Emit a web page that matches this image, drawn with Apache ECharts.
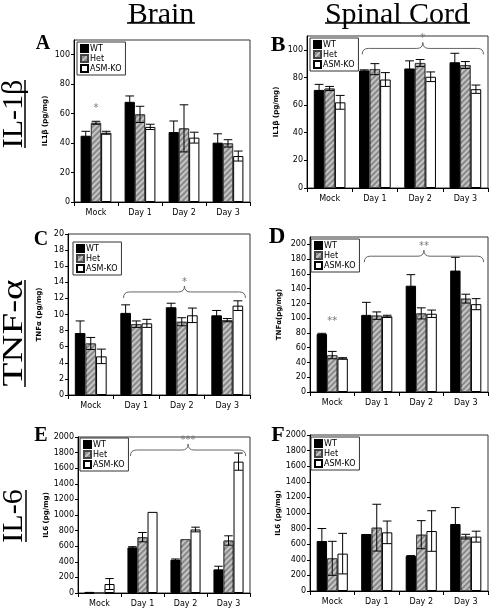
<!DOCTYPE html>
<html><head><meta charset="utf-8">
<script src="https://cdn.jsdelivr.net/npm/echarts@6/dist/echarts.min.js"></script>
<style>html,body{margin:0;padding:0;background:#fff}#c{width:496px;height:612px}</style>
</head><body><div id="c"></div>
<script>
const categories = ['Mock', 'Day 1', 'Day 2', 'Day 3'];
const groups = ['WT', 'Het', 'ASM-KO'];

// A: IL1β brain
const aWT = [45, 68, 47.5, 40.3], aWTErr = [3, 4, 7.5, 6];
const aHet = [53.8, 59.5, 50, 39.8], aHetErr = [1, 5.5, 16, 2.5];
const aKO = [47, 51, 43.7, 31.2], aKOErr = [1, 1.8, 3.7, 3.4];
// B: IL1β spinal cord
const bWT = [71, 85, 86.5, 91], bWTErr = [4, 0.5, 5.5, 6.5];
const bHet = [72, 86, 90.5, 89], bHetErr = [1.5, 4, 2.5, 2.5];
const bKO = [62, 78.5, 80.5, 71.5], bKOErr = [5, 5, 3.5, 3];
// C: TNFα brain
const cWT = [7.7, 10.2, 10.9, 9.9], cWTErr = [1.5, 1, 0.5, 0.6];
const cHet = [6.4, 8.8, 9.1, 9.3], cHetErr = [0.75, 0.4, 0.5, 0.2];
const cKO = [4.8, 8.9, 9.9, 11.1], cKOErr = [0.9, 0.5, 0.9, 0.6];
// D: TNFα spinal cord
const dWT = [78.5, 104.5, 144, 164.5], dWTErr = [1, 17, 15, 18];
const dHet = [50, 103.5, 106.5, 126.5], dHetErr = [5, 5, 7.5, 6];
const dKO = [45.5, 102.5, 106, 119], dKOErr = [1, 1.5, 5, 7.5];
// E: IL6 brain
const eWT = [5, 584, 426, 303], eWTErr = [3, 10, 10, 40];
const eHet = [0, 716, 691, 673], eHetErr = [0, 60, 0, 60];
const eKO = [115, 1040, 814, 1684], eKOErr = [70, 0, 30, 110];
// F: IL6 spinal cord
const fWT = [641, 731, 449, 859], fWTErr = [160, 0, 5, 210];
const fHet = [419, 812, 722, 697], fHetErr = [218, 300, 180, 30];
const fKO = [479, 752, 769, 697], fKOErr = [260, 145, 260, 70];

// significance brackets: [fromCategory, toCategory, value], and labels
const bBrackets = [[1, 3, 101]], bBracketLabels = ['*'];
const cBrackets = [[1, 3, 12.8]], cBracketLabels = ['*'];
const dBrackets = [[1, 3, 184]], dBracketLabels = ['**'];
const eBrackets = [[1, 3, 1833]], eBracketLabels = ['***'];
// single significance marks: [category, value, barIndex], labels
const aMarks = [[0, 63.5, 1]], aMarkLabels = ['*'];
const dMarks = [[0, 96, 1]], dMarkLabels = ['**'];

const yMaxes = [110, 110, 20, 210, 2000, 2000];
const yIntervals = [20, 20, 2, 20, 200, 200];
const yNames = ['IL1β (pg/mg)', 'IL1β (pg/mg)', 'TNFα (pg/mg)', 'TNFα(pg/mg)', 'IL6 (pg/mg)', 'IL6 (pg/mg)'];

const panels = [
  {vals: [aWT, aHet, aKO], errs: [aWTErr, aHetErr, aKOErr], brackets: [], bl: [], marks: aMarks, ml: aMarkLabels},
  {vals: [bWT, bHet, bKO], errs: [bWTErr, bHetErr, bKOErr], brackets: bBrackets, bl: bBracketLabels, marks: [], ml: []},
  {vals: [cWT, cHet, cKO], errs: [cWTErr, cHetErr, cKOErr], brackets: cBrackets, bl: cBracketLabels, marks: [], ml: []},
  {vals: [dWT, dHet, dKO], errs: [dWTErr, dHetErr, dKOErr], brackets: dBrackets, bl: dBracketLabels, marks: dMarks, ml: dMarkLabels},
  {vals: [eWT, eHet, eKO], errs: [eWTErr, eHetErr, eKOErr], brackets: eBrackets, bl: eBracketLabels, marks: [], ml: []},
  {vals: [fWT, fHet, fKO], errs: [fWTErr, fHetErr, fKOErr], brackets: [], bl: [], marks: [], ml: []}
];

// layout (pixels)
const layout = [
  {left: 74, top: 40, width: 176, height: 162, legend: [77, 42]},
  {left: 307, top: 36, width: 181, height: 152, legend: [310, 38]},
  {left: 68, top: 234, width: 182, height: 161, legend: [73, 242]},
  {left: 310, top: 237, width: 178, height: 155, legend: [311, 239]},
  {left: 78, top: 437, width: 172, height: 156, legend: [80, 438]},
  {left: 310, top: 435, width: 178, height: 156, legend: [311, 437]}
];

const FONT = 'DejaVu Sans';
const SERIF = '"Liberation Serif", "DejaVu Serif", serif';
const CAT_GAP = 0.3;

const barStyles = [
  {color: '#000', borderColor: '#000', borderWidth: 1},
  {color: '#8a8a8a', borderColor: '#444', borderWidth: 1,
   decal: {color: '#c4c4c4', dashArrayX: [1, 0], dashArrayY: [2, 2], rotation: -Math.PI / 4, symbol: 'rect'}},
  {color: '#fff', borderColor: '#000', borderWidth: 1}
];

function renderErr(params, api) {
  const cat = api.value(0), v = api.value(1), e = api.value(2), k = api.value(3);
  if (!(e > 0)) return null;
  const band = api.size([1, 0])[0];
  const bw = band * (1 - CAT_GAP) / 3;
  const x = api.coord([cat, v])[0] + (k - 1) * bw;
  const yt = api.coord([cat, v + e])[1];
  const yb = api.coord([cat, Math.max(v - e, 0)])[1];
  const hw = bw * 0.42;
  const st = {stroke: '#000', lineWidth: 1};
  return {type: 'group', children: [
    {type: 'line', shape: {x1: x, y1: yt, x2: x, y2: yb}, style: st},
    {type: 'line', shape: {x1: x - hw, y1: yt, x2: x + hw, y2: yt}, style: st},
    {type: 'line', shape: {x1: x - hw, y1: yb, x2: x + hw, y2: yb}, style: st}
  ]};
}

function makeBracketRenderer(labels) {
  return function (params, api) {
    const a = api.value(0), b = api.value(1), v = api.value(2);
    const band = api.size([1, 0])[0];
    const x1 = api.coord([a, v])[0] - 0.28 * band;
    const x2 = api.coord([b, v])[0] + 0.4 * band;
    const y = api.coord([a, v])[1];
    const xm = (x1 + x2) / 2;
    const d = 6;
    const p = `M${x1},${y + d} Q${x1},${y} ${x1 + d},${y} L${xm - d},${y} Q${xm},${y} ${xm},${y - d} Q${xm},${y} ${xm + d},${y} L${x2 - d},${y} Q${x2},${y} ${x2},${y + d}`;
    return {type: 'group', children: [
      {type: 'path', shape: {pathData: p}, style: {stroke: '#666', lineWidth: 1, fill: null}},
      {type: 'text', x: xm, y: y - d - 4, style: {text: labels[params.dataIndex], fill: '#777', font: '10px ' + FONT, align: 'center', verticalAlign: 'middle'}}
    ]};
  };
}

function makeMarkRenderer(labels) {
  return function (params, api) {
    const cat = api.value(0), v = api.value(1), k = api.value(2);
    const band = api.size([1, 0])[0];
    const bw = band * (1 - CAT_GAP) / 3;
    const c = api.coord([cat, v]);
    return {type: 'text', x: c[0] + (k - 1) * bw, y: c[1], style: {text: labels[params.dataIndex], fill: '#777', font: '10px ' + FONT, align: 'center', verticalAlign: 'middle'}};
  };
}

const grid = [], xAxis = [], yAxis = [], series = [], legend = [];
panels.forEach((p, i) => {
  const L = layout[i];
  grid.push({left: L.left, top: L.top, width: L.width, height: L.height, show: true, borderColor: '#333', borderWidth: 1, containLabel: false});
  xAxis.push({type: 'category', gridIndex: i, data: categories,
    axisLine: {lineStyle: {color: '#000', width: 1}},
    axisTick: {show: true, length: 4, interval: 0, lineStyle: {color: '#000'}},
    axisLabel: {fontSize: 8, fontFamily: FONT, color: '#000', margin: 7, interval: 0}});
  yAxis.push({type: 'value', gridIndex: i, min: 0, max: yMaxes[i], interval: yIntervals[i],
    name: yNames[i], nameLocation: 'middle', nameRotate: 90, nameGap: i % 2 === 0 ? 25 : 27,
    nameTextStyle: {fontSize: 7, fontWeight: 'bold', fontFamily: FONT, color: '#000'},
    splitLine: {show: false},
    axisLine: {show: true, lineStyle: {color: '#000', width: 1}},
    axisTick: {show: true, length: 3, lineStyle: {color: '#000'}},
    axisLabel: {fontSize: 8, fontFamily: FONT, color: '#000', margin: 4, formatter: v => String(v),
      showMaxLabel: yMaxes[i] % yIntervals[i] === 0}});
  p.vals.forEach((vals, k) => {
    series.push({type: 'bar', name: groups[k], xAxisIndex: i, yAxisIndex: i, data: vals,
      barGap: '0%', barCategoryGap: (CAT_GAP * 100) + '%', itemStyle: barStyles[k], emphasis: {disabled: true}, silent: true});
  });
  const errData = [];
  p.vals.forEach((vals, k) => vals.forEach((v, c) => errData.push([c, v, p.errs[k][c], k])));
  series.push({type: 'custom', xAxisIndex: i, yAxisIndex: i, data: errData, renderItem: renderErr, encode: {x: 0, y: 1}, z: 5, silent: true});
  if (p.brackets.length) series.push({type: 'custom', xAxisIndex: i, yAxisIndex: i, data: p.brackets, renderItem: makeBracketRenderer(p.bl), encode: {x: 0, y: 2}, z: 6, silent: true});
  if (p.marks.length) series.push({type: 'custom', xAxisIndex: i, yAxisIndex: i, data: p.marks, renderItem: makeMarkRenderer(p.ml), encode: {x: 0, y: 1}, z: 6, silent: true});
  legend.push({left: L.legend[0], top: L.legend[1], orient: 'vertical', data: groups, icon: 'rect',
    itemWidth: 7, itemHeight: 7, itemGap: 1, padding: [2, 4, 2, 3], borderColor: '#333', borderWidth: 1,
    backgroundColor: '#fff', selectedMode: false, textStyle: {fontSize: 8, fontFamily: FONT, color: '#000', padding: [0, 0, 0, -3]}});
});

const graphic = [
  {type: 'text', x: 161, y: 15, style: {text: 'Brain', font: '30px ' + SERIF, fill: '#000', align: 'center', verticalAlign: 'middle'}},
  {type: 'line', shape: {x1: 127, y1: 23, x2: 195, y2: 23}, style: {stroke: '#000', lineWidth: 1.5}},
  {type: 'text', x: 397, y: 15, style: {text: 'Spinal Cord', font: '30px ' + SERIF, fill: '#000', align: 'center', verticalAlign: 'middle'}},
  {type: 'line', shape: {x1: 325, y1: 23, x2: 470, y2: 23}, style: {stroke: '#000', lineWidth: 1.5}},
  {type: 'text', x: 14, y: 114, rotation: Math.PI / 2, style: {text: 'IL-1β', font: '30px ' + SERIF, fill: '#000', align: 'center', verticalAlign: 'middle'}},
  {type: 'line', shape: {x1: 25, y1: 80, x2: 25, y2: 148}, style: {stroke: '#000', lineWidth: 1.5}},
  {type: 'text', x: 14, y: 333, rotation: Math.PI / 2, scaleX: 1.3, style: {text: 'TNF-α', font: '30px ' + SERIF, fill: '#000', align: 'center', verticalAlign: 'middle'}},
  {type: 'line', shape: {x1: 25, y1: 280, x2: 25, y2: 387}, style: {stroke: '#000', lineWidth: 1.5}},
  {type: 'text', x: 14, y: 516, rotation: Math.PI / 2, style: {text: 'IL-6', font: '30px ' + SERIF, fill: '#000', align: 'center', verticalAlign: 'middle'}},
  {type: 'line', shape: {x1: 26, y1: 490, x2: 26, y2: 542}, style: {stroke: '#000', lineWidth: 1.5}},
  {type: 'text', x: 43, y: 44, style: {text: 'A', font: 'bold 20px ' + SERIF, fill: '#000', align: 'center', verticalAlign: 'middle'}},
  {type: 'text', x: 278, y: 45, style: {text: 'B', font: 'bold 22px ' + SERIF, fill: '#000', align: 'center', verticalAlign: 'middle'}},
  {type: 'text', x: 41, y: 240, style: {text: 'C', font: 'bold 20px ' + SERIF, fill: '#000', align: 'center', verticalAlign: 'middle'}},
  {type: 'text', x: 277, y: 237, style: {text: 'D', font: 'bold 23px ' + SERIF, fill: '#000', align: 'center', verticalAlign: 'middle'}},
  {type: 'text', x: 41, y: 436, style: {text: 'E', font: 'bold 20px ' + SERIF, fill: '#000', align: 'center', verticalAlign: 'middle'}},
  {type: 'text', x: 278, y: 435, style: {text: 'F', font: 'bold 22px ' + SERIF, fill: '#000', align: 'center', verticalAlign: 'middle'}}
];

const chart = echarts.init(document.getElementById('c'), null, {renderer: 'canvas'});
chart.setOption({animation: false, backgroundColor: '#fff', grid, xAxis, yAxis, series, legend, graphic});
</script></body></html>
